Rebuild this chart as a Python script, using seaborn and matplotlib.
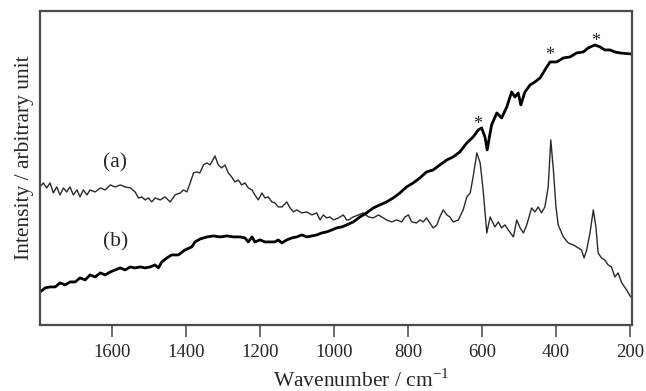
import pandas as pd
import matplotlib
matplotlib.use("Agg")
import matplotlib.pyplot as plt
import seaborn as sns

# spectrum (a): thin trace
wn_a = [1795, 1786, 1777, 1768, 1759, 1750, 1741, 1732, 1723, 1714,
        1705, 1695, 1687, 1678, 1668, 1660, 1646, 1632, 1619, 1605,
        1592, 1578, 1565, 1551, 1538, 1529, 1520, 1511, 1502, 1493,
        1484, 1470, 1457, 1443, 1430, 1416, 1407, 1398, 1389, 1380,
        1371, 1363, 1353, 1344, 1335, 1322, 1313, 1304, 1295, 1286,
        1277, 1268, 1259, 1250, 1241, 1232, 1222, 1214, 1205, 1195,
        1187, 1178, 1168, 1160, 1151, 1141, 1128, 1119, 1110, 1101,
        1087, 1074, 1060, 1047, 1038, 1029, 1020, 1011, 1002, 988,
        975, 966, 961, 948, 934, 921, 907, 894, 880, 871,
        858, 844, 831, 817, 808, 799, 790, 777, 768, 759,
        750, 741, 732, 722, 714, 705, 695, 687, 678, 664,
        651, 641, 632, 624, 614, 605, 597, 587, 578, 574,
        565, 556, 547, 538, 529, 515, 506, 497, 488, 479,
        466, 457, 448, 439, 430, 421, 414, 407, 400, 394,
        380, 367, 353, 340, 331, 324, 317, 308, 299, 292,
        286, 277, 268, 259, 250, 241, 232, 222, 209, 198]
int_a = [138, 142, 137, 142, 132, 138, 130, 137, 133, 138,
         130, 135, 128, 135, 130, 135, 133, 137, 135, 140,
         138, 140, 138, 137, 133, 127, 128, 125, 127, 123,
         127, 125, 128, 123, 130, 132, 135, 133, 142, 152,
         153, 152, 160, 162, 160, 169, 160, 157, 160, 152,
         148, 143, 145, 140, 142, 137, 135, 130, 125, 132,
         127, 128, 123, 122, 118, 118, 123, 117, 113, 115,
         112, 113, 110, 112, 105, 110, 107, 108, 105, 107,
         110, 105, 105, 108, 110, 112, 108, 107, 110, 108,
         105, 103, 105, 103, 108, 110, 103, 102, 105, 103,
         107, 102, 97, 100, 108, 115, 110, 108, 103, 105,
         115, 128, 132, 148, 172, 162, 135, 92, 108, 105,
         98, 103, 97, 100, 95, 88, 105, 97, 92, 100,
         117, 113, 118, 112, 118, 138, 185, 155, 118, 100,
         88, 82, 80, 77, 75, 67, 75, 92, 115, 98,
         72, 67, 65, 60, 58, 48, 52, 42, 35, 28]

# spectrum (b): thick trace
wn_b = [1795, 1781, 1768, 1754, 1741, 1727, 1714, 1700, 1687, 1673,
        1660, 1646, 1632, 1619, 1605, 1592, 1578, 1565, 1551, 1538,
        1524, 1511, 1497, 1484, 1475, 1466, 1452, 1439, 1421, 1403,
        1385, 1376, 1362, 1344, 1326, 1308, 1290, 1272, 1254, 1241,
        1232, 1222, 1214, 1200, 1187, 1173, 1160, 1151, 1141, 1128,
        1114, 1101, 1087, 1074, 1060, 1047, 1033, 1020, 1006, 993,
        979, 966, 948, 930, 912, 894, 876, 858, 840, 822,
        804, 786, 768, 750, 732, 714, 695, 678, 660, 641,
        624, 610, 601, 592, 586, 578, 574, 560, 547, 533,
        520, 511, 502, 495, 484, 470, 457, 443, 430, 416,
        398, 380, 362, 344, 326, 313, 295, 281, 268, 254,
        241, 227, 198]
int_b = [33, 37, 38, 38, 42, 40, 43, 43, 47, 45,
         50, 48, 52, 50, 53, 55, 57, 55, 58, 57,
         58, 57, 58, 60, 57, 63, 67, 70, 70, 75,
         78, 83, 86, 88, 89, 88, 89, 88, 88, 87,
         83, 88, 83, 85, 83, 83, 83, 85, 82, 85,
         87, 88, 90, 88, 89, 90, 92, 93, 95, 97,
         98, 100, 103, 108, 112, 117, 120, 123, 127, 132,
         138, 142, 147, 153, 155, 160, 165, 168, 173, 182,
         188, 195, 197, 188, 175, 192, 200, 212, 207, 218,
         233, 228, 232, 220, 233, 240, 243, 247, 255, 263,
         263, 267, 268, 272, 273, 277, 280, 278, 275, 275,
         273, 272, 271]

# asterisk marks on (b)
star_wn = [613, 416, 292]
star_int = [200, 269, 283]

df_a = pd.DataFrame({"wn": wn_a, "I": int_a})
df_b = pd.DataFrame({"wn": wn_b, "I": int_b})

sns.set_style("white")
plt.rcParams["font.family"] = ["Liberation Serif", "DejaVu Serif"]
plt.rcParams["mathtext.fontset"] = "custom"
plt.rcParams["mathtext.rm"] = "Liberation Serif"

fig = plt.figure(figsize=(6.46, 3.91), dpi=100)
ax = fig.add_axes([0.062, 0.169, 0.916, 0.803])

sns.lineplot(data=df_a, x="wn", y="I", color="#2a2a2a", linewidth=1.0,
             estimator=None, sort=False, ax=ax)
sns.lineplot(data=df_b, x="wn", y="I", color="black", linewidth=2.0,
             estimator=None, sort=False, ax=ax)

for w, v in zip(star_wn, star_int):
    ax.text(w, v, "*", ha="center", va="center", fontsize=13, color="#222222")

ax.text(1592, 162, "(a)", ha="center", va="center", fontsize=15.5)
ax.text(1592, 83, "(b)", ha="center", va="center", fontsize=15.5)

ax.set_xlim(1795, 195)
ax.set_ylim(0, 314)
ax.set_xticks([1600, 1400, 1200, 1000, 800, 600, 400, 200])
ax.set_yticks([])
ax.tick_params(axis="x", direction="out", length=8.5, width=1.1,
               color="#444444", labelsize=13.5, pad=5, bottom=True)

for s in ax.spines.values():
    s.set_color("#4a4a4a")
    s.set_linewidth(1.6)

ax.set_xlabel("Wavenumber / cm$^{\\mathrm{-1}}$", fontsize=15.5, labelpad=6, x=0.542)
ax.set_ylabel("Intensity / arbitrary unit", fontsize=15.5, labelpad=4.5, y=0.532)

fig.savefig("out.png", dpi=100)
